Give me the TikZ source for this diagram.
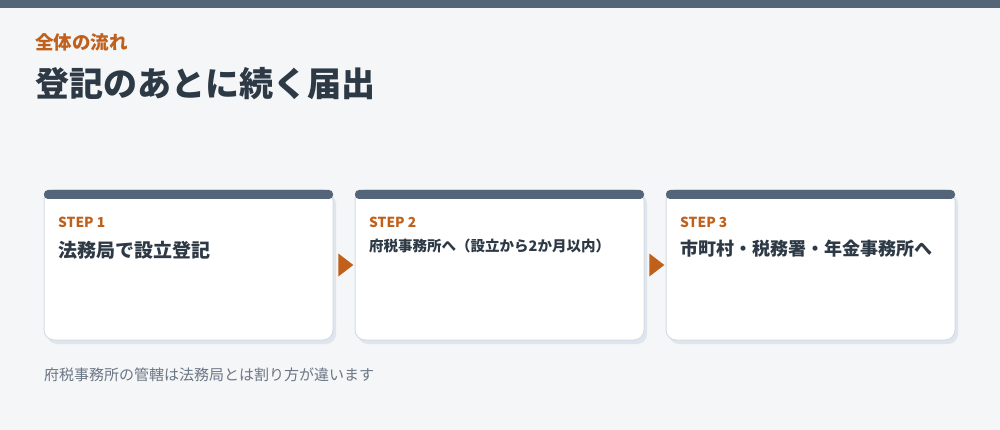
\documentclass[tikz,border=0pt]{standalone}
\usepackage{fontspec}
\setmainfont{Noto Sans CJK JP}
\definecolor{paper}{HTML}{F5F6F8}
\definecolor{slate}{HTML}{546579}
\definecolor{rust}{HTML}{C0601A}
\definecolor{ink}{HTML}{2D3945}
\definecolor{note}{HTML}{6B7684}
\definecolor{edge}{HTML}{D3DBE4}
\definecolor{shade}{HTML}{DEE5ED}
\usetikzlibrary{shapes.geometric,backgrounds,positioning}
\tikzstyle{card}=[draw=edge,fill=white,line width=1pt,rounded corners=10pt,
  minimum width=289pt,minimum height=150pt,inner sep=0pt,outer sep=0pt]
\tikzstyle{shadow}=[fill=shade,rounded corners=10pt]
\tikzstyle{cardbar}=[fill=slate,rounded corners=4pt]
\tikzstyle{steplabel}=[text=rust,anchor=west,inner sep=0pt,
  font=\bfseries\fontsize{13.8}{16}\selectfont]
\tikzstyle{title}=[text=ink,anchor=west,inner sep=0pt,
  font=\bfseries\fontsize{18}{22}\selectfont]
\tikzstyle{flow}=[isosceles triangle,isosceles triangle stretches,fill=rust,
  inner sep=0pt,minimum width=23pt,minimum height=15pt]

\begin{document}
\begin{tikzpicture}[x=1pt, y=-1pt, node distance=22pt]
  \useasboundingbox (0,0) rectangle (1000,430);

  \node[text=rust, anchor=west, inner sep=0pt,
    font=\bfseries\fontsize{18.5}{22}\selectfont] (kicker) at (35,42) {全体の流れ};
  \node[text=ink, anchor=west, inner sep=0pt,
    font=\bfseries\fontsize{34}{40}\selectfont] (heading) at (35,84) {登記のあとに続く届出};

  \node[card, anchor=north west] (s1) at (44,190) {};
  \node[card, right=of s1] (s2) {};
  \node[card, right=of s2] (s3) {};

  \foreach \s in {s1,s2,s3}
    \fill[cardbar] (\s.north west) rectangle ([yshift=-9pt]\s.north east);

  \node[steplabel] (l1) at ([shift={(14,32)}]s1.north west) {STEP 1};
  \node[steplabel] (l2) at ([shift={(14,32)}]s2.north west) {STEP 2};
  \node[steplabel] (l3) at ([shift={(14,32)}]s3.north west) {STEP 3};

  \node[title, font=\bfseries\fontsize{19}{23}\selectfont] (t1)
    at ([shift={(14,60)}]s1.north west) {法務局で設立登記};
  \node[title, font=\bfseries\fontsize{14.5}{18}\selectfont] (t2)
    at ([shift={(14,56)}]s2.north west) {府税事務所へ（設立から2か月以内）};
  \node[title] (t3) at ([shift={(14,59)}]s3.north west) {市町村・税務署・年金事務所へ};

  \path (s1) -- node[flow] (f1) {} (s2);
  \path (s2) -- node[flow] (f2) {} (s3);

  \node[text=note, anchor=west, inner sep=0pt,
    font=\fontsize{15}{18}\selectfont] (remark) at (44,375)
    {府税事務所の管轄は法務局とは割り方が違います};

  \begin{pgfonlayer}{background}
    \fill[paper] (0,0) rectangle (1000,430);
    \fill[slate] (0,0) rectangle (1000,8);
    \foreach \s in {s1,s2,s3}
      \fill[shadow] ([shift={(3,4)}]\s.north west) rectangle ([shift={(3,4)}]\s.south east);
  \end{pgfonlayer}
\end{tikzpicture}
\end{document}
